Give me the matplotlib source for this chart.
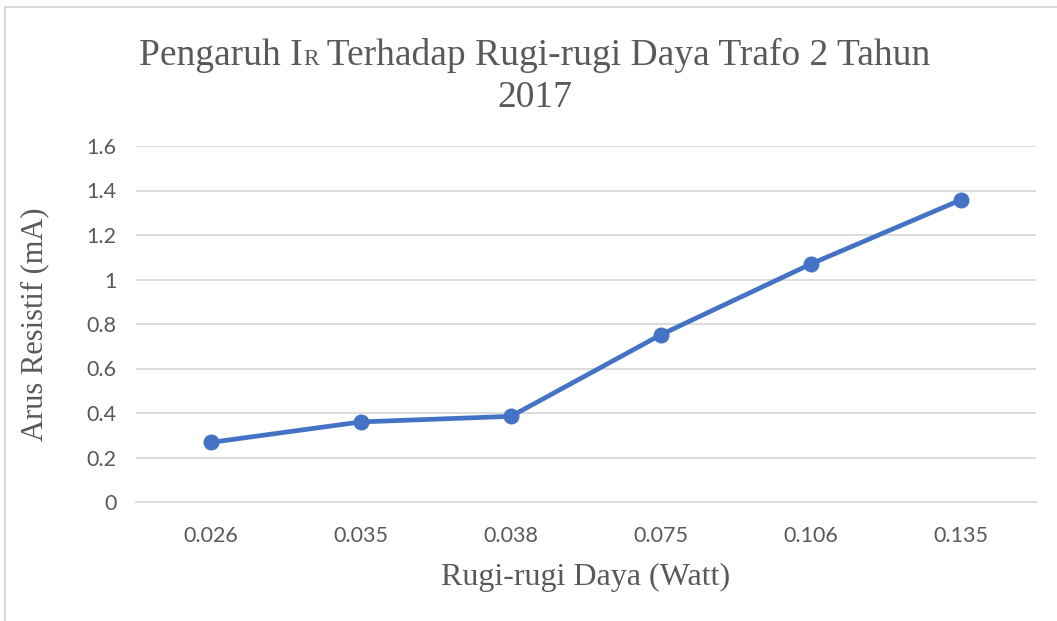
import matplotlib
matplotlib.use("Agg")
import matplotlib.pyplot as plt
from matplotlib.lines import Line2D

categories = ["0.026", "0.035", "0.038", "0.075", "0.106", "0.135"]
values = [0.268, 0.36, 0.385, 0.752, 1.07, 1.358]
yticks = [0, 0.2, 0.4, 0.6, 0.8, 1.0, 1.2, 1.4, 1.6]
ytick_labels = ["0", "0.2", "0.4", "0.6", "0.8", "1", "1.2", "1.4", "1.6"]

W, H = 1057, 621
fig = plt.figure(figsize=(W / 100, H / 100), dpi=100)
ax = fig.add_axes([136 / W, 1 - 502 / H, 900 / W, 356 / H])

x = list(range(len(categories)))
ax.plot(x, values, color="#4472C4", linewidth=3.4, marker="o", markersize=10.5,
        solid_capstyle="round", zorder=3)
ax.set_xlim(-0.5, len(categories) - 0.5)
ax.set_ylim(0, 1.6)
ax.set_yticks(yticks)
ax.set_yticklabels(ytick_labels)
ax.set_xticks(x)
ax.set_xticklabels(categories)
ax.grid(axis="y", color="#D9D9D9", linewidth=1.3)
ax.set_axisbelow(True)
for s in ["top", "right", "left"]:
    ax.spines[s].set_visible(False)
ax.spines["bottom"].set_color("#D9D9D9")
ax.spines["bottom"].set_linewidth(1.3)
ax.tick_params(length=0, labelsize=15.5, colors="#595959")
ax.tick_params(axis="y", pad=14)
ax.tick_params(axis="x", pad=17)
for lab in ax.get_xticklabels() + ax.get_yticklabels():
    lab.set_family("Lato")

serif = "Liberation Serif"
ax.set_ylabel("Arus Resistif (mA)", family=serif, fontsize=22, color="#595959", va="center")
ax.set_xlabel("Rugi-rugi Daya (Watt)", family=serif, fontsize=23, color="#595959", va="center")
ax.yaxis.set_label_coords((35 - 136) / 900, 0.5)
ax.xaxis.set_label_coords(0.5, (502 - 577) / 356)

# Title with small R after I
tsize = 27
parts = [("Pengaruh I", tsize), ("R", tsize * 0.62), (" Terhadap Rugi-rugi Daya Trafo 2 Tahun", tsize)]
y1 = 1 - 65 / H
texts = [fig.text(0, y1, p, fontsize=s, family=serif, color="#595959", ha="left", va="baseline")
         for p, s in parts]
fig.canvas.draw()
r = fig.canvas.get_renderer()
widths = [t.get_window_extent(r).width for t in texts]
total = sum(widths)
cx = 535
xpos = cx - total / 2
for t, w in zip(texts, widths):
    t.set_x(xpos / W)
    xpos += w
fig.text(cx / W, 1 - 107 / H, "2017", fontsize=tsize, family=serif, color="#595959",
         ha="center", va="baseline")

# chart frame border (top and left edges visible)
fig.add_artist(Line2D([5 / W, 1], [1 - 7 / H, 1 - 7 / H], color="#D9D9D9", linewidth=1.5))
fig.add_artist(Line2D([5 / W, 5 / W], [0, 1 - 7 / H], color="#D9D9D9", linewidth=1.5))

fig.savefig("out.png", dpi=100)
